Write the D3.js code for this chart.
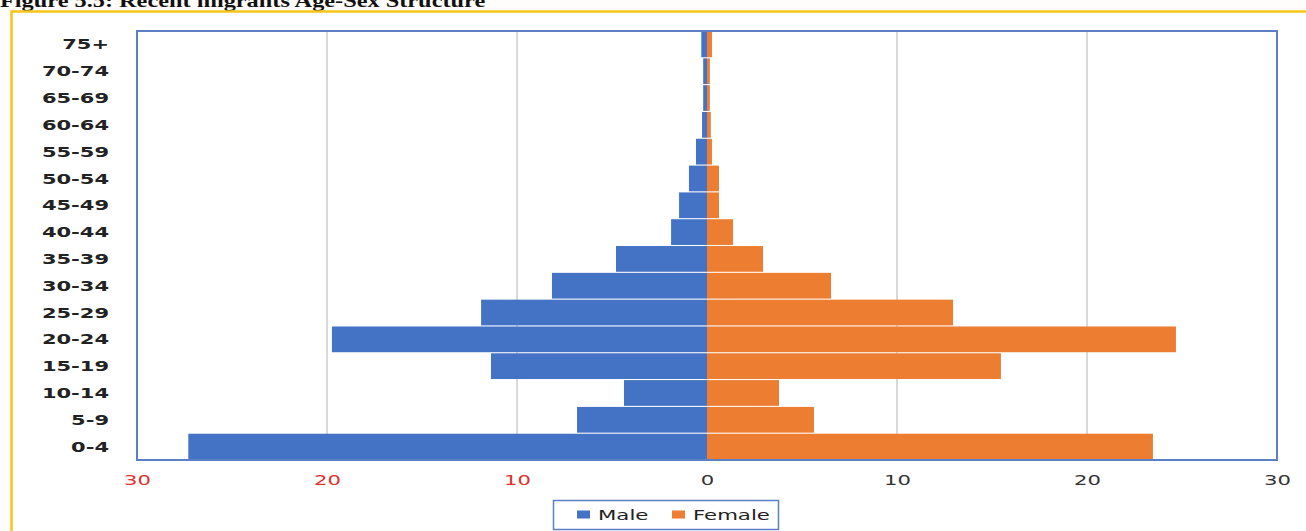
<!DOCTYPE html>
<html>
<head>
<meta charset="utf-8">
<script src="https://cdn.jsdelivr.net/npm/d3@7"></script>
<style>
  html, body { margin: 0; padding: 0; background: #fffdfb; }
  svg { display: block; }
</style>
</head>
<body>
<svg id="chart" width="1306" height="531"></svg>
<script>
// Age groups, from youngest (bottom) to oldest (top)
const ageGroups = ["0-4","5-9","10-14","15-19","20-24","25-29","30-34","35-39",
                   "40-44","45-49","50-54","55-59","60-64","65-69","70-74","75+"];
// Share of recent migrants (%) per age group
const maleValues   = [27.3, 6.84, 4.37, 11.37, 19.74, 11.89, 8.16, 4.79,
                      1.89, 1.47, 0.95, 0.58, 0.26, 0.2, 0.2, 0.3];
const femaleValues = [23.47, 5.63, 3.79, 15.47, 24.68, 12.95, 6.53, 2.95,
                      1.37, 0.63, 0.63, 0.26, 0.2, 0.15, 0.15, 0.26];
const tickValues = [-30, -20, -10, 0, 10, 20, 30];
const seriesNames = ["Male", "Female"];

const colors = { Male: "#4472c4", Female: "#ed7d31" };
const labelFont = "'DejaVu Sans', Verdana, sans-serif";

const svg = d3.select("#chart");
const W = 1306, H = 531;

// Figure title (runs off the top of the page)
svg.append("text")
  .attr("transform", "translate(0,7) scale(1.28,1)")
  .attr("font-family", "'Liberation Serif', 'Times New Roman', serif")
  .attr("font-weight", "bold").attr("font-size", 19)
  .attr("fill", "#111")
  .text("Figure 5.5: Recent migrants Age-Sex Structure");

// Gold frame around the figure
svg.append("rect")
  .attr("x", 11.5).attr("y", 11.5).attr("width", W + 10).attr("height", H + 10)
  .attr("fill", "#ffffff").attr("stroke", "#f5c518").attr("stroke-width", 2.5);

const plot = { left: 137, right: 1277, top: 31, bottom: 460 };

const x = d3.scaleLinear().domain([-30, 30]).range([plot.left, plot.right]);
const y = d3.scaleBand().domain(ageGroups.slice().reverse())
  .range([plot.top, plot.bottom]).paddingInner(0.04).paddingOuter(0.02);

// Vertical gridlines
svg.append("g").selectAll("line")
  .data(tickValues.filter(t => t !== -30 && t !== 30 && t !== 0))
  .join("line")
  .attr("x1", d => x(d)).attr("x2", d => x(d))
  .attr("y1", plot.top).attr("y2", plot.bottom)
  .attr("stroke", "#d9d9d9").attr("stroke-width", 2);

// Bars
const barG = svg.append("g");
barG.selectAll("rect.male")
  .data(ageGroups.map((g, i) => ({ g, v: maleValues[i] })))
  .join("rect").attr("class", "male")
  .attr("x", d => x(-d.v)).attr("width", d => x(0) - x(-d.v))
  .attr("y", d => y(d.g)).attr("height", y.bandwidth())
  .attr("fill", colors.Male);
barG.selectAll("rect.female")
  .data(ageGroups.map((g, i) => ({ g, v: femaleValues[i] })))
  .join("rect").attr("class", "female")
  .attr("x", x(0)).attr("width", d => x(d.v) - x(0))
  .attr("y", d => y(d.g)).attr("height", y.bandwidth())
  .attr("fill", colors.Female);

// Plot border
svg.append("rect")
  .attr("x", plot.left).attr("y", plot.top)
  .attr("width", plot.right - plot.left).attr("height", plot.bottom - plot.top)
  .attr("fill", "none").attr("stroke", "#5b7fc4").attr("stroke-width", 2);

// Category axis labels (wide lettering)
const yAxis = d3.axisLeft(y).tickSize(0).tickPadding(0);
const yG = svg.append("g").attr("transform", `translate(109,0)`).call(yAxis);
yG.select(".domain").remove();
yG.selectAll("text")
  .attr("x", 0)
  .attr("dy", "0.36em")
  .attr("transform", "scale(1.5,1)")
  .attr("font-family", labelFont)
  .attr("font-weight", "bold").attr("font-size", 14)
  .attr("fill", "#222");

// Value axis labels (left side drawn in red)
const xAxis = d3.axisBottom(x).tickValues(tickValues)
  .tickFormat(d => Math.abs(d)).tickSize(0).tickPadding(0);
const xG = svg.append("g").attr("transform", `translate(0,${plot.bottom + 25})`).call(xAxis);
xG.select(".domain").remove();
xG.selectAll("text")
  .attr("y", 0).attr("dy", 0)
  .attr("transform", "scale(1.57,1)")
  .attr("font-family", labelFont)
  .attr("font-size", 13.5)
  .attr("fill", d => d < 0 ? "#e0302f" : "#333");

// Legend
const legend = svg.append("g");
legend.append("rect")
  .attr("x", 553.5).attr("y", 500.5).attr("width", 225).attr("height", 29)
  .attr("fill", "#fff").attr("stroke", "#5b7fc4").attr("stroke-width", 1.5);
const legendX = { Male: 577, Female: 672 };
seriesNames.forEach(name => {
  legend.append("rect")
    .attr("x", legendX[name]).attr("y", 510.5).attr("width", 13).attr("height", 8)
    .attr("fill", colors[name]);
  legend.append("text")
    .attr("transform", `translate(${legendX[name] + 21},520) scale(1.52,1)`)
    .attr("font-family", labelFont)
    .attr("font-size", 14).attr("fill", "#222")
    .text(name);
});
</script>
</body>
</html>
